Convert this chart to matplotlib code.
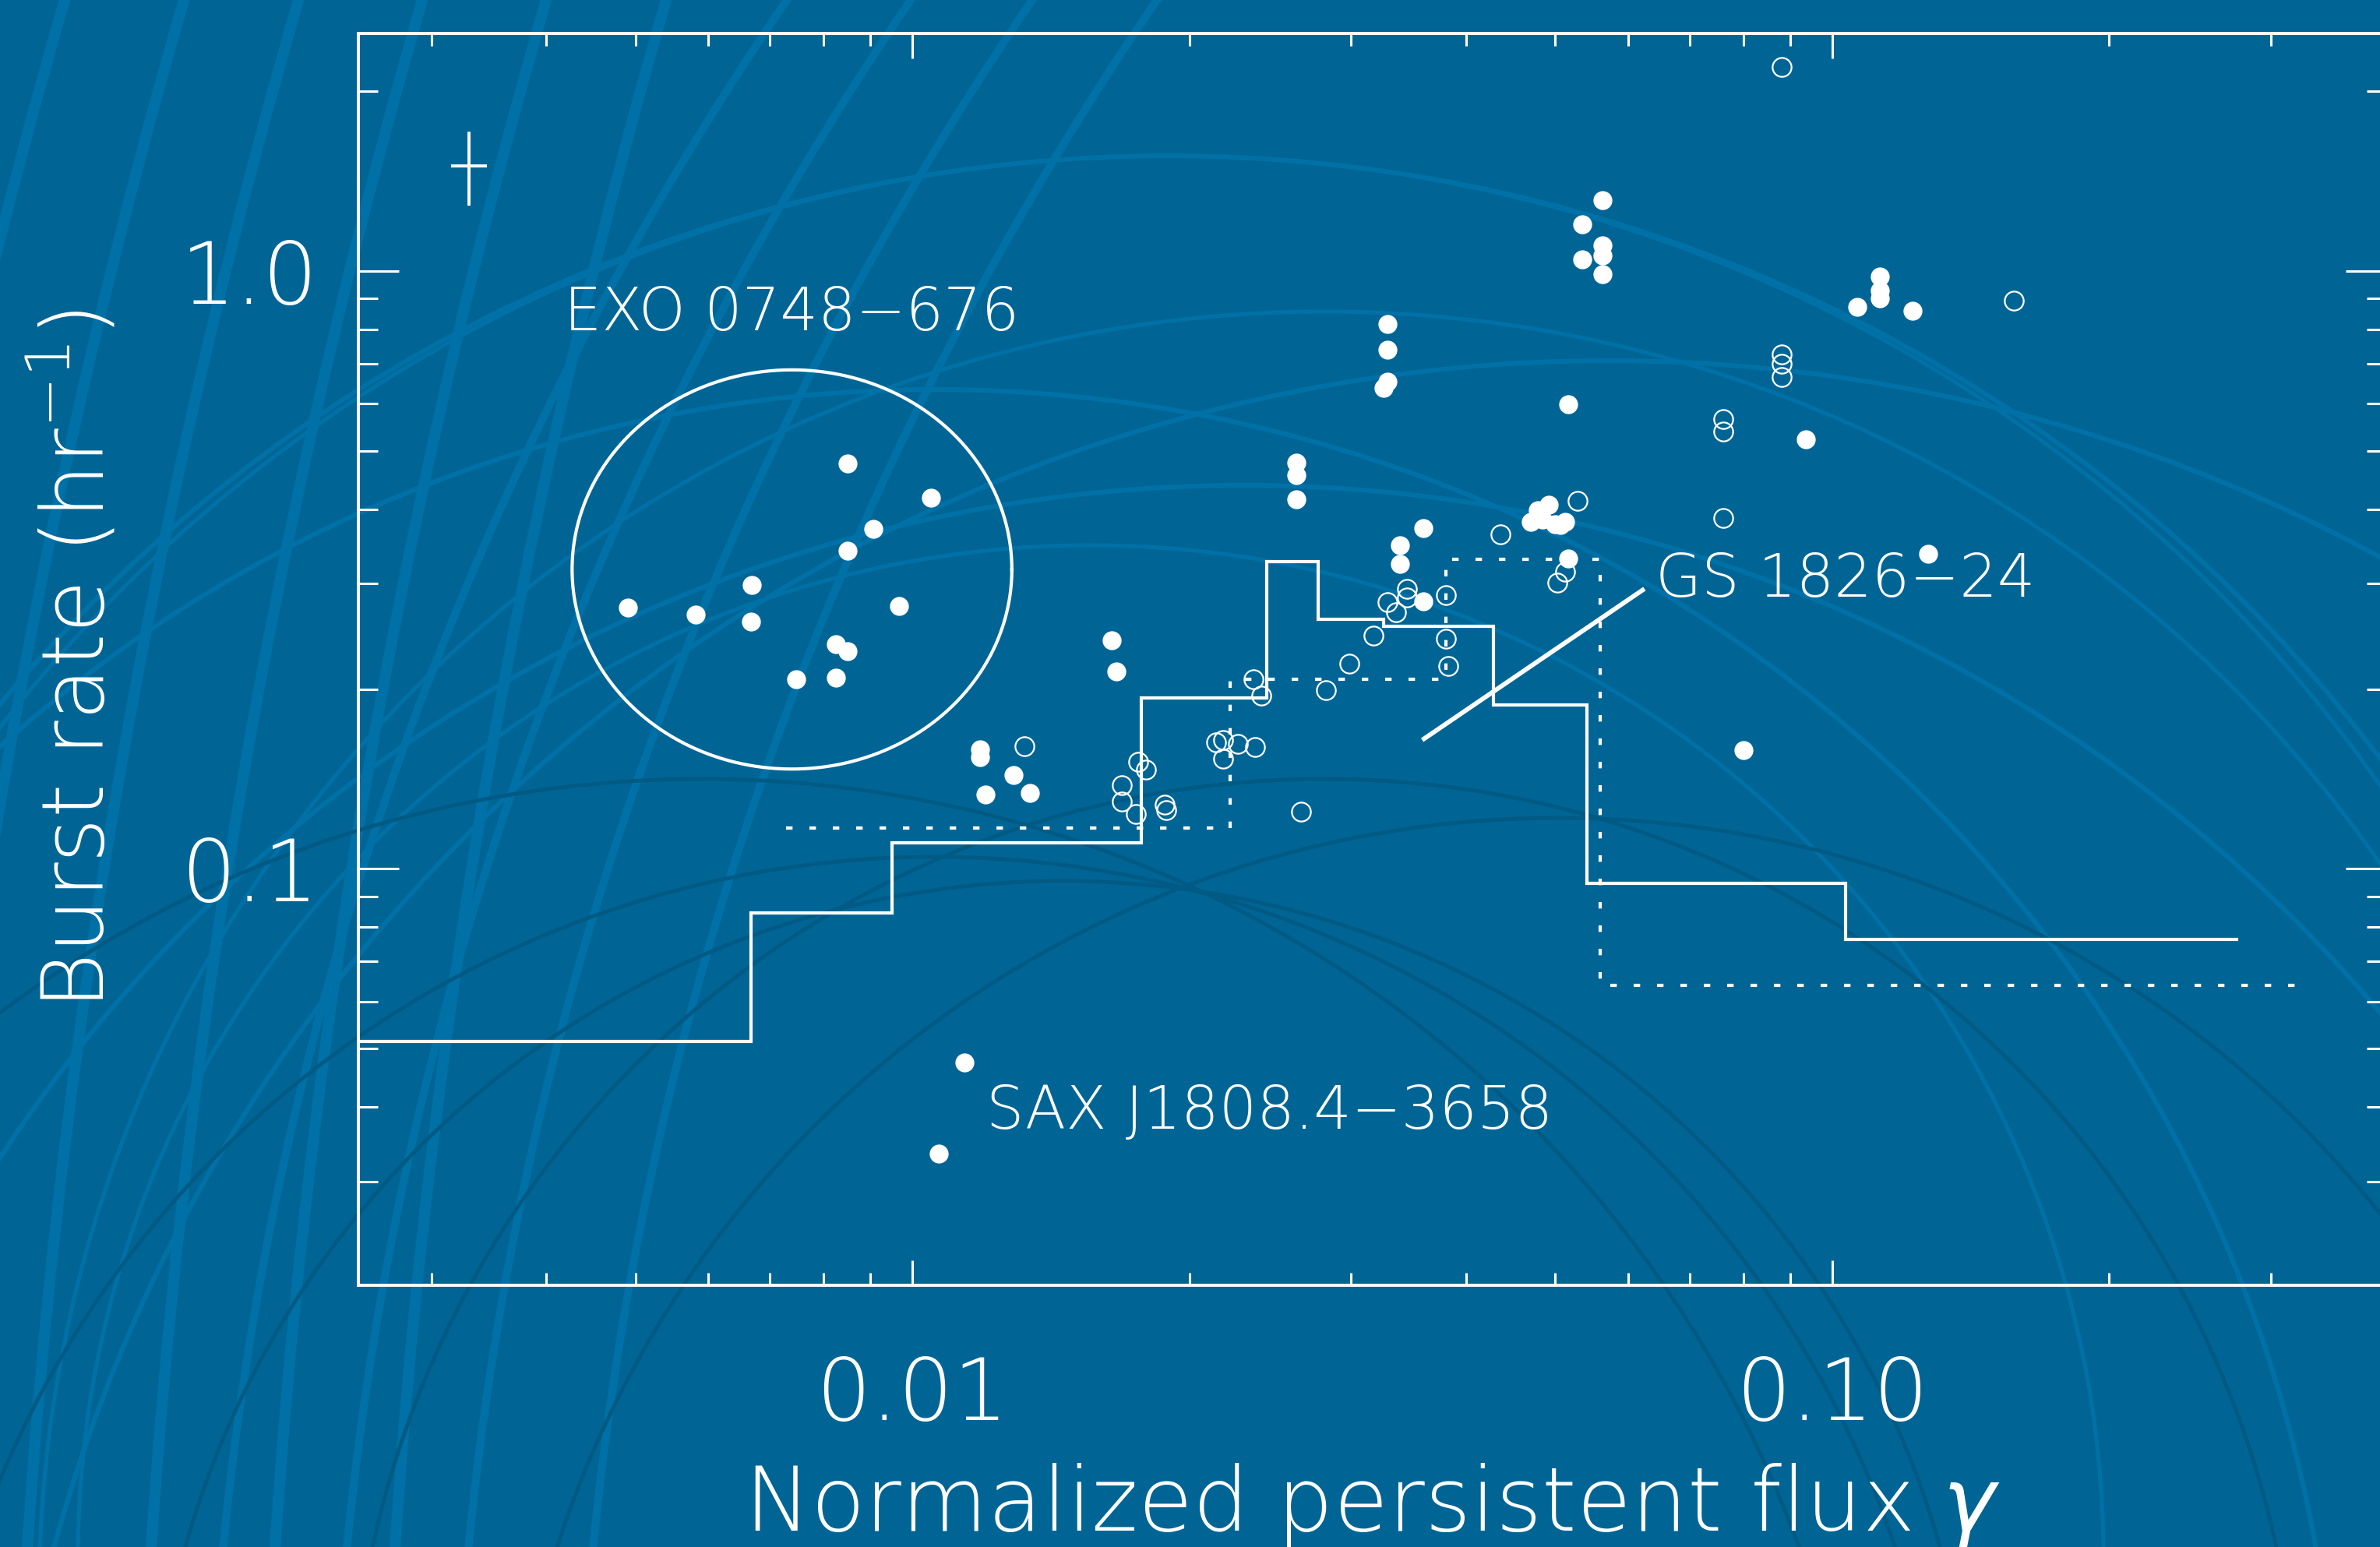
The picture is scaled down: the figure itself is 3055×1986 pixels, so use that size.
import numpy as np
import matplotlib.pyplot as plt
from matplotlib.patches import Circle
from matplotlib.ticker import FixedLocator, FixedFormatter, NullFormatter

plt.rcParams['font.family'] = ['DejaVu Sans']
plt.rcParams['font.weight'] = 'light'
plt.rcParams['axes.labelweight'] = 'light'
plt.rcParams['mathtext.fontset'] = 'custom'
plt.rcParams['mathtext.rm'] = 'DejaVu Sans:light'
plt.rcParams['mathtext.it'] = 'DejaVu Sans:italic:light'
plt.rcParams['mathtext.default'] = 'regular'

bg = '#006595'
fg = 'white'

# bursts, filled symbols
flux_filled = [0.00491, 0.00582, 0.00669, 0.00668, 0.00851, 0.00851, 0.00907, 0.01048,
               0.00967, 0.00826, 0.00851, 0.00748, 0.00826,
               0.01185, 0.01185, 0.01289, 0.01201, 0.01343, 0.01648, 0.01667,
               0.02617, 0.02617, 0.02617, 0.03282, 0.03282, 0.03282, 0.03250,
               0.03596, 0.03386, 0.03386, 0.03596,
               0.04699, 0.04783, 0.04914, 0.04838, 0.04991, 0.05120, 0.05060, 0.05161, 0.05161,
               0.05623, 0.05345, 0.05623, 0.05623, 0.05345, 0.05623,
               0.1064, 0.1126, 0.1126, 0.1126, 0.1223, 0.0936, 0.1271, 0.0800,
               0.01140, 0.01069]
rate_filled = [0.2734, 0.266, 0.2982, 0.2590, 0.4764, 0.3404, 0.3702, 0.4174,
               0.2750, 0.2374, 0.2311, 0.2074, 0.2087,
               0.1583, 0.1536, 0.1434, 0.1330, 0.1338, 0.2410, 0.2137,
               0.4778, 0.4554, 0.4150, 0.8153, 0.7385, 0.6530, 0.6374,
               0.3713, 0.3476, 0.3234, 0.2800,
               0.3803, 0.3978, 0.4063, 0.3838, 0.3770, 0.3803, 0.3758, 0.3304, 0.5985,
               1.314, 1.197, 1.104, 1.062, 1.046, 0.988,
               0.871, 0.979, 0.928, 0.900, 0.858, 0.524, 0.337, 0.158,
               0.0474, 0.0334]

# bursts, open symbols
flux_open = [0.01324, 0.01761, 0.01796, 0.01690, 0.01690, 0.01750, 0.01882, 0.01889,
             0.02137, 0.02179, 0.02261, 0.02360, 0.02179, 0.02351, 0.02397, 0.02648,
             0.02818, 0.02987, 0.03169, 0.03452, 0.03452, 0.03288, 0.03353,
             0.03805, 0.03805, 0.03822, 0.04355, 0.05284, 0.05120, 0.05021,
             0.0881, 0.0881, 0.0881, 0.0881, 0.0761, 0.0761, 0.0761, 0.1576]
rate_open = [0.1602, 0.1509, 0.1468, 0.1382, 0.1298, 0.1234, 0.1279, 0.1256,
             0.1627, 0.1641, 0.1617, 0.1598, 0.1527, 0.2074, 0.1948, 0.1245,
             0.1989, 0.2203, 0.2454, 0.2938, 0.2842, 0.2791, 0.2685,
             0.2868, 0.2425, 0.2183, 0.3625, 0.4125, 0.3138, 0.3010,
             2.196, 0.7252, 0.6995, 0.6646, 0.5652, 0.5387, 0.3861, 0.8922]

# model histograms
solid_edges = [0.0025, 0.00668, 0.0095, 0.01775, 0.0243, 0.0276, 0.0325, 0.0428, 0.0541, 0.1033, 0.276]
solid_rate = [0.0515, 0.0843, 0.1104, 0.1935, 0.327, 0.262, 0.255, 0.1878, 0.0945, 0.0763]
dotted_edges = [0.00729, 0.02217, 0.038, 0.0559, 0.3276]
dotted_rate = [0.1169, 0.2074, 0.3294, 0.0639]

# typical error bar
err_x, err_y = 0.0033, 1.5
err_xlo, err_xhi = 0.00315, 0.00345
err_ylo, err_yhi = 1.287, 1.712

# EXO 0748-676 ellipse (centre and half widths in decades)
ell_x, ell_y = 0.0074, 0.317
ell_dx, ell_dy = 0.239, 0.334

# GS 1826-24 pointer
gs_x = [0.0360, 0.0622]
gs_y = [0.1651, 0.2928]

fig = plt.figure(figsize=(30.55, 19.86), dpi=100, facecolor=bg)

# background decoration, (x px, y px from top, radius px, width px, colour)
light = '#0071a6'
dark = '#005a84'
rings = []
for xt in [83, 236, 383, 542, 701, 855]:
    cx = xt + 9000
    rings.append((cx, 2600, np.hypot(cx - xt, 2600), 14, light))
for xt in [1010, 1169, 1325, 1485]:
    cx = xt + 3500
    rings.append((cx, 2400, np.hypot(cx - xt, 2400), 10, light))
rings += [(2065, 2532, 2069, 6, light), (1597, 2532, 1909, 6, light),
          (1200, 2300, 1800, 6, light), (1500, 2150, 1950, 6, light),
          (1500, 2100, 1900, 5, light), (1700, 2050, 1650, 5, light),
          (1400, 2000, 1300, 5, light),
          (1364, 2300, 1169, 5, dark), (1200, 2400, 1300, 5, dark),
          (1700, 2250, 1250, 5, dark), (2000, 2400, 1350, 5, dark),
          (900, 2500, 1500, 5, dark)]
for cx, cy, r, w, c in rings:
    fig.patches.append(Circle((cx / 100, (1986 - cy) / 100), r / 100, fill=False,
                              ec=c, lw=w * 0.72, transform=fig.dpi_scale_trans, zorder=-5))

ax = fig.add_axes([460 / 3055, 1 - 1650 / 1986, 2603 / 3055, 1607 / 1986])
ax.set_facecolor('none')
ax.set_xscale('log')
ax.set_yscale('log')
ax.set_xlim(0.0025, 0.4)
ax.set_ylim(0.0201, 2.5)

for s in ax.spines.values():
    s.set_color(fg)
    s.set_linewidth(2.8)

ax.plot(flux_filled, rate_filled, 'o', color=fg, ms=17.5, mec='none', zorder=4)
ax.plot(flux_open, rate_open, 'o', mfc='none', mec=fg, ms=17.5, mew=1.6, zorder=4)

ax.stairs(solid_rate, solid_edges, baseline=None, color=fg, lw=3, zorder=3)
ax.stairs(dotted_rate, dotted_edges, baseline=None, color=fg, lw=3,
          linestyle=(0, (2.0, 5.2)), zorder=3)

ax.errorbar([err_x], [err_y], xerr=[[err_x - err_xlo], [err_xhi - err_x]],
            yerr=[[err_y - err_ylo], [err_yhi - err_y]], fmt='none', ecolor=fg,
            elinewidth=2.8, capsize=0)

t = np.linspace(0, 2 * np.pi, 200)
ax.plot(10 ** (np.log10(ell_x) + ell_dx * np.cos(t)),
        10 ** (np.log10(ell_y) + ell_dy * np.sin(t)), color=fg, lw=3)

ax.plot(gs_x, gs_y, color=fg, lw=4.2)

ax.text(0.00418, 0.796, 'EXO 0748\u2212676', color=fg, fontsize=55, va='baseline')
ax.text(0.0642, 0.2851, 'GS 1826\u221224', color=fg, fontsize=55, va='baseline')
ax.text(0.01203, 0.0367, 'SAX J1808.4\u22123658', color=fg, fontsize=55, va='baseline')

# ticks
xminor = [m * 10.0 ** e for e in (-3, -2, -1) for m in range(2, 10)]
yminor = [m * 10.0 ** e for e in (-2, -1, 0) for m in range(2, 10)]
ax.xaxis.set_major_locator(FixedLocator([0.01, 0.1]))
ax.xaxis.set_major_formatter(FixedFormatter(['0.01', '0.10']))
ax.xaxis.set_minor_locator(FixedLocator(xminor))
ax.xaxis.set_minor_formatter(NullFormatter())
ax.yaxis.set_major_locator(FixedLocator([0.1, 1.0]))
ax.yaxis.set_major_formatter(FixedFormatter(['0.1', '1.0']))
ax.yaxis.set_minor_locator(FixedLocator(yminor))
ax.yaxis.set_minor_formatter(NullFormatter())

ax.tick_params(axis='both', which='both', direction='in', colors=fg, width=2.2,
               top=True, right=True, labelsize=80)
ax.tick_params(axis='x', which='major', length=23, pad=64)
ax.tick_params(axis='x', which='minor', length=11.5)
ax.tick_params(axis='y', which='major', length=37.5, pad=37)
ax.tick_params(axis='y', which='minor', length=18)

ax.set_xlabel('Normalized persistent flux $\\mathit{\\gamma}$', color=fg, fontsize=82,
              fontweight='light')
ax.xaxis.set_label_coords(0.5, -0.196)
ax.xaxis.label.set_va('baseline')
ax.set_ylabel('Burst rate (hr$^{-1}$)', color=fg, fontsize=80, fontweight='light')
ax.yaxis.set_label_coords(-0.1395, 0.5)
ax.yaxis.label.set_va('center')

fig.savefig('out.png', dpi=100, facecolor=bg)
